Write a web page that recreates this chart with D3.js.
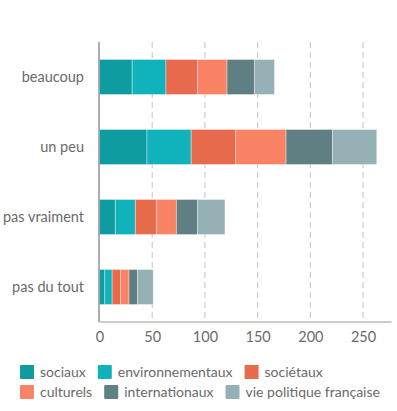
<!DOCTYPE html>
<html>
<head>
<meta charset="utf-8">
<script src="https://cdn.jsdelivr.net/npm/d3@7"></script>
<style>
  body { margin: 0; background: #fff; }
  svg text { font-family: Lato, sans-serif; }
</style>
</head>
<body>
<svg width="397" height="411"></svg>
<script>
const categories = ["beaucoup", "un peu", "pas vraiment", "pas du tout"];
const seriesNames = ["sociaux", "environnementaux", "sociétaux", "culturels", "internationaux", "vie politique française"];
const sociaux = [31, 45, 15, 5];
const environnementaux = [32, 42, 19, 7];
const societaux = [30, 42, 20, 8];
const culturels = [28, 48, 19, 8];
const internationaux = [26, 44, 20, 8];
const viePolitique = [19, 42, 26, 15];
const xTicks = [0, 50, 100, 150, 200, 250];
const colors = ["#0f9ca1", "#10b3bc", "#e66a4b", "#fa8366", "#607f83", "#95b1b6"];

const svg = d3.select("svg");
const mLeft = 99.5, mRight = 391.5, mTop = 42, mBottom = 322;

const values = [sociaux, environnementaux, societaux, culturels, internationaux, viePolitique];
const rows = categories.map((c, i) => {
  const r = { cat: c };
  seriesNames.forEach((s, j) => r[s] = values[j][i]);
  return r;
});
const stacked = d3.stack().keys(seriesNames)(rows);

const x = d3.scaleLinear().domain([0, 277]).range([mLeft, mRight]);
const y = d3.scaleBand().domain(categories).range([mTop, mBottom]).paddingInner(0.5).paddingOuter(0.25);
const color = d3.scaleOrdinal().domain(seriesNames).range(colors);

// grid
svg.append("g").selectAll("line")
  .data(xTicks.filter(d => d > 0))
  .join("line")
  .attr("x1", d => x(d)).attr("x2", d => x(d))
  .attr("y1", mTop).attr("y2", mBottom)
  .attr("stroke", "#c4c4c4").attr("stroke-dasharray", "6,4");

// bars
svg.append("g").selectAll("g")
  .data(stacked)
  .join("g")
  .attr("fill", d => color(d.key))
  .selectAll("rect")
  .data(d => d)
  .join("rect")
  .attr("x", d => x(d[0]))
  .attr("width", d => x(d[1]) - x(d[0]))
  .attr("y", d => y(d.data.cat))
  .attr("height", y.bandwidth())
  .attr("stroke", "rgba(255,255,255,0.35)")
  .attr("stroke-width", 1);

// x axis
const xAxis = svg.append("g")
  .attr("transform", `translate(0,${mBottom})`)
  .call(d3.axisBottom(x).tickValues(xTicks).tickSize(0).tickPadding(10));
xAxis.select(".domain").attr("stroke", "#999").attr("d", `M${mLeft},0H${mRight}`);
xAxis.selectAll("text").attr("fill", "#6a6a6a").style("font-size", "14.5px").style("font-family", "Lato");

// y axis
const yAxis = svg.append("g")
  .attr("transform", `translate(${mLeft - 0.5},0)`)
  .call(d3.axisLeft(y).tickSize(0).tickPadding(15));
yAxis.select(".domain").attr("stroke", "#8f959c").attr("stroke-width", 1.5).attr("d", `M0,${mTop}V${mBottom}`);
yAxis.selectAll("text").attr("fill", "#6a6a6a").style("font-size", "14.5px").style("font-family", "Lato");

// legend
const legend = svg.append("g");
let lx = 20, ly = 365;
seriesNames.forEach((s, i) => {
  const g = legend.append("g");
  g.append("rect").attr("width", 14).attr("height", 14).attr("rx", 1).attr("fill", color(s));
  const t = g.append("text").attr("x", 20).attr("y", 7).attr("dy", "0.35em")
    .attr("fill", "#6a6a6a").style("font-size", "14px").text(s);
  const w = 20 + t.node().getComputedTextLength();
  if (lx + w > 385) { lx = 20; ly += 20; }
  g.attr("transform", `translate(${lx},${ly})`);
  lx += w + 12;
});
</script>
</body>
</html>
